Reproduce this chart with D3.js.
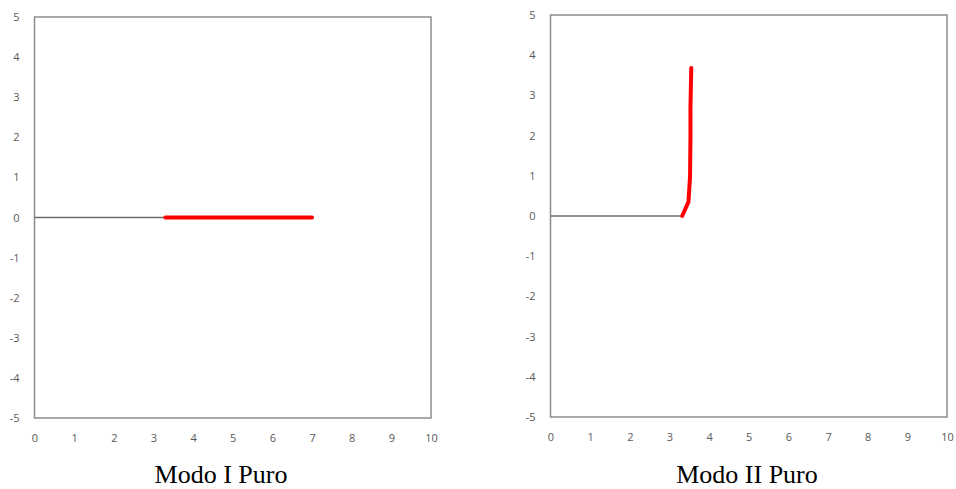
<!DOCTYPE html>
<html>
<head>
<meta charset="utf-8">
<script src="https://cdn.jsdelivr.net/npm/d3@7.9.0/dist/d3.min.js"></script>
<style>
  body { margin: 0; background: #fff; }
  .tick text { font-family: "Open Sans", sans-serif; font-size: 11px; fill: #595959; }
  .caption { font-family: "Liberation Serif", "Times New Roman", serif; font-size: 26px; fill: #000; }
</style>
</head>
<body>
<svg id="chart" width="956" height="489"></svg>
<script>
const xTicks = [0, 1, 2, 3, 4, 5, 6, 7, 8, 9, 10];
const yTicks = [-5, -4, -3, -2, -1, 0, 1, 2, 3, 4, 5];

// pre-existing crack (gray) and propagated path (red) for each case
const crackX = [0, 3.3];
const crackY = [0, 0];
const modeIX = [3.3, 7.0];
const modeIY = [0, 0];
const modeIIX = [3.32, 3.48, 3.52, 3.53, 3.53, 3.55];
const modeIIY = [0, 0.35, 1.0, 2.0, 2.7, 3.68];

const panels = [
  { caption: 'Modo I Puro', x0: 34.5, x1: 431, y0: 17, y1: 418, capX: 221, pathX: modeIX, pathY: modeIY },
  { caption: 'Modo II Puro', x0: 550.5, x1: 947, y0: 15, y1: 417, capX: 747, pathX: modeIIX, pathY: modeIIY }
];

const svg = d3.select('#chart');

panels.forEach(p => {
  const x = d3.scaleLinear().domain([0, 10]).range([p.x0, p.x1]);
  const y = d3.scaleLinear().domain([-5, 5]).range([p.y1, p.y0]);
  const g = svg.append('g');

  g.append('rect')
    .attr('x', x(0)).attr('y', y(5))
    .attr('width', x(10) - x(0)).attr('height', y(-5) - y(5))
    .attr('fill', 'none').attr('stroke', '#8c8c8c').attr('stroke-width', 1.5);

  const xAxis = g.append('g')
    .attr('transform', `translate(0,${p.y1})`)
    .call(d3.axisBottom(x).tickValues(xTicks).tickFormat(d => String(d)).tickSize(0).tickPadding(16));
  xAxis.select('.domain').remove();

  const yAxis = g.append('g')
    .attr('transform', `translate(${p.x0},0)`)
    .call(d3.axisLeft(y).tickValues(yTicks).tickFormat(d => String(d)).tickSize(0).tickPadding(15));
  yAxis.select('.domain').remove();

  const line = d3.line().x(d => x(d[0])).y(d => y(d[1]));

  g.append('path')
    .attr('d', line(d3.zip(crackX, crackY)))
    .attr('fill', 'none').attr('stroke', '#6e6e6e').attr('stroke-width', 1.5);

  g.append('path')
    .attr('d', line(d3.zip(p.pathX, p.pathY)))
    .attr('fill', 'none').attr('stroke', '#ff0000').attr('stroke-width', 4)
    .attr('stroke-linecap', 'round').attr('stroke-linejoin', 'round');

  svg.append('text')
    .attr('class', 'caption')
    .attr('x', p.capX).attr('y', 483)
    .attr('text-anchor', 'middle')
    .text(p.caption);
});
</script>
</body>
</html>
